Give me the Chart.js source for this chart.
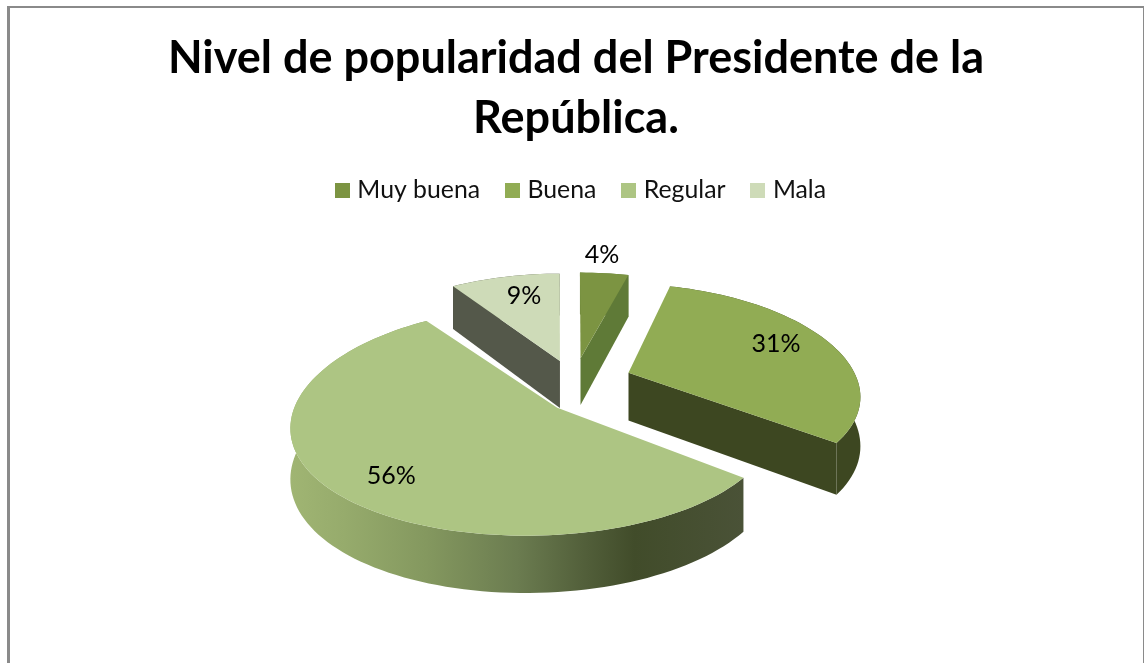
<!DOCTYPE html>
<html lang="es">
<head>
<meta charset="utf-8">
<title>Nivel de popularidad</title>
<style>
  html, body { margin: 0; background: #fff; overflow: hidden; }
  #frame {
    position: absolute; left: 7px; top: 6px; width: 1133px; height: 660px;
    border: solid #8a8a8a; border-width: 2px 2px 0 3px;
  }
  #chart { position: absolute; left: 0; top: 0; }
</style>
</head>
<body>
<div id="frame"></div>
<canvas id="chart" width="1144" height="663"></canvas>
<script src="https://cdn.jsdelivr.net/npm/chart.js@4"></script>
<script>
// ── Data ──
const titleLines = ['Nivel de popularidad del Presidente de la', 'República.'];
const categories = ['Muy buena', 'Buena', 'Regular', 'Mala'];
const values = [4, 31, 56, 9];

// ── Slice styling ──
const topColors = ['#7C9442', '#91AC54', '#ADC583', '#CEDBB8'];
const explode = [38, 38, 38, 38];
const startFaceColors = [null, null, null, '#54584A'];
const endFaceColors = ['#5F7A37', '#3D4721', null, null];
const wallStops = [
  [[0, '#5F7A37'], [1, '#5F7A37']],
  [[0, '#3D4721'], [1, '#3D4721']],
  [[0, '#A0B573'], [0.12, '#96AB6C'], [0.3, '#84985F'], [0.5, '#6B7C50'], [0.65, '#525F3A'], [0.76, '#414C2A'], [1, '#4A5237']],
  [[0, '#54584A'], [1, '#54584A']],
];
// moves a whole slice a little past its explode offset, in units of the radius
const sliceDrift = [[-0.012, 0.02], [-0.018, -0.01], [0.012, 0], [-0.012, 0.025]];
// nudges the inner corner of a slice, same units
const tipShift = [[0, -0.04], [0.006, -0.035], [0.098, 0.015], [0.012, -0.025]];
// where each percentage sits: along the slice's middle line from its corner, plus a small nudge
const labelReach = [1.17, 0.72, 0.88, 0.62];
const labelNudge = [[-0.028, -0.03], [0.01, -0.04], [0.02, -0.04], [-0.013, -0.11]];
const drawOrder = [3, 0, 1, 2];

// ── View of the tilted disc ──
const VIEW = { stretchX: 1.577, stretchY: 0.728, depth: 0.33, nearPullX: 0.16, nearPullY: 0.13 };

function project(arc, mx, my, drop = 0) {
  const r = arc.outerRadius;
  const wx = 1 - VIEW.nearPullX * my;
  const wy = 1 - VIEW.nearPullY * my;
  return {
    x: arc.x + r * VIEW.stretchX * mx / wx,
    y: arc.y + r * VIEW.stretchY * my / wy + drop * r * VIEW.depth / wy,
  };
}

function sliceOutline(arc, index) {
  const mid = (arc.startAngle + arc.endAngle) / 2;
  const e = arc.options.offset / arc.outerRadius;
  const ox = Math.cos(mid) * e + sliceDrift[index][0];
  const oy = Math.sin(mid) * e + sliceDrift[index][1];
  const rim = [];
  const steps = Math.max(6, Math.round((arc.endAngle - arc.startAngle) * 30));
  for (let i = 0; i <= steps; i++) {
    const a = arc.startAngle + (arc.endAngle - arc.startAngle) * i / steps;
    rim.push([ox + Math.cos(a), oy + Math.sin(a)]);
  }
  const tip = [ox + tipShift[index][0], oy + tipShift[index][1]];
  return { rim, tip, mid };
}

function fillPath(ctx, pts, style) {
  ctx.beginPath();
  pts.forEach((p, i) => (i ? ctx.lineTo(p.x, p.y) : ctx.moveTo(p.x, p.y)));
  ctx.closePath();
  ctx.fillStyle = style;
  ctx.fill();
}

function drawSlice(ctx, arc, index) {
  const { rim, tip } = sliceOutline(arc, index);
  const top = rim.map(p => project(arc, p[0], p[1]));
  const low = rim.map(p => project(arc, p[0], p[1], 1));
  const tipTop = project(arc, tip[0], tip[1]);
  const tipLow = project(arc, tip[0], tip[1], 1);

  // outer wall, shaded left to right
  const xs = top.map(p => p.x);
  const grad = ctx.createLinearGradient(Math.min(...xs), 0, Math.max(...xs), 0);
  wallStops[index].forEach(([at, c]) => grad.addColorStop(at, c));
  fillPath(ctx, top.concat(low.slice().reverse()), grad);

  // cut faces
  const last = top.length - 1;
  if (startFaceColors[index]) fillPath(ctx, [tipTop, top[0], low[0], tipLow], startFaceColors[index]);
  if (endFaceColors[index]) fillPath(ctx, [tipTop, top[last], low[last], tipLow], endFaceColors[index]);

  // top surface
  fillPath(ctx, [tipTop].concat(top), arc.options.backgroundColor);
}

function drawPercent(ctx, arc, index) {
  const { tip, mid } = sliceOutline(arc, index);
  const reach = labelReach[index];
  const p = project(arc,
    tip[0] + Math.cos(mid) * reach + labelNudge[index][0],
    tip[1] + Math.sin(mid) * reach + labelNudge[index][1]);
  ctx.fillStyle = '#000';
  ctx.font = '25px Lato';
  ctx.textAlign = 'center';
  ctx.textBaseline = 'middle';
  ctx.fillText(values[index] + '%', p.x, p.y);
}

// Paints the pie as a thick tilted disc from the arc elements' own angles and offsets
const tiltedPie = {
  id: 'tiltedPie',
  afterLayout(chart) {
    chart.legend.left += 7;
    chart.legend.right += 7;
    chart.legend.top -= 8;
    chart.legend.bottom -= 8;
  },
  beforeDatasetDraw(chart, args) {
    const { ctx } = chart;
    const arcs = chart.getDatasetMeta(args.index).data;
    ctx.save();
    drawOrder.forEach(i => drawSlice(ctx, arcs[i], i));
    drawOrder.forEach(i => drawPercent(ctx, arcs[i], i));
    ctx.restore();
    return false;
  },
};

function legendSwatch(color) {
  const c = document.createElement('canvas');
  c.width = 15;
  c.height = 15;
  const g = c.getContext('2d');
  g.fillStyle = color;
  g.fillRect(0, 0, 15, 15);
  return c;
}

new Chart(document.getElementById('chart'), {
  type: 'pie',
  data: {
    labels: categories,
    datasets: [{ data: values, backgroundColor: topColors, borderWidth: 0, offset: explode }],
  },
  plugins: [tiltedPie],
  options: {
    responsive: false,
    animation: false,
    layout: { padding: { left: 8, top: 29, bottom: 110 } },
    plugins: {
      tooltip: { enabled: false },
      title: {
        display: true,
        text: titleLines,
        color: '#000',
        font: { family: 'Lato', size: 45, weight: 'bold', lineHeight: 1.33 },
        padding: { top: 0, bottom: 7 },
      },
      legend: {
        position: 'top',
        labels: {
          color: '#111',
          font: { family: 'Lato', size: 24.8 },
          boxWidth: 5,
          usePointStyle: true,
          padding: 30,
          generateLabels(chart) {
            return categories.map((text, i) => ({
              text,
              index: i,
              fontColor: '#111',
              fillStyle: topColors[i],
              strokeStyle: topColors[i],
              lineWidth: 0,
              pointStyle: legendSwatch(topColors[i]),
            }));
          },
        },
      },
    },
  },
});
</script>
</body>
</html>
